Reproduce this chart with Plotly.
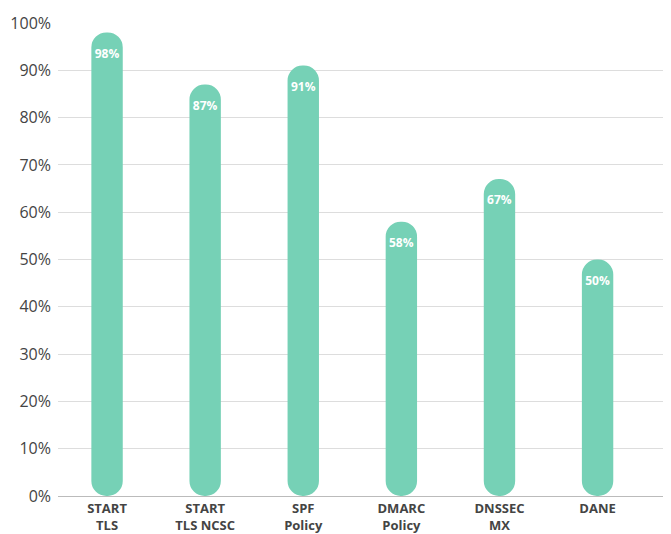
import plotly.graph_objects as go

categories = ["START<br>TLS", "START<br>TLS NCSC", "SPF<br>Policy", "DMARC<br>Policy", "DNSSEC<br>MX", "DANE"]
values = [98, 87, 91, 58, 67, 50]
labels = ["98%", "87%", "91%", "58%", "67%", "50%"]

fig = go.Figure(go.Bar(
    x=categories, y=values, text=labels, textposition="inside",
    insidetextanchor="end",
    textfont=dict(color="white", size=12, family="Open Sans", weight="bold"),
    marker=dict(color="#76d1b6", cornerradius=16, line=dict(width=0)),
    width=0.32, base=0,
))
fig.update_layout(
    width=671, height=534, plot_bgcolor="white", paper_bgcolor="white",
    margin=dict(l=50, r=0, t=15, b=46),
    font=dict(family="Open Sans", color="#555"),
    showlegend=False,
    yaxis=dict(range=[0, 100], dtick=10, ticksuffix="%", gridcolor="#dddddd",
               tickfont=dict(size=16, color="#444"), zeroline=False,
               showline=False, ticklabelstandoff=6),
    xaxis=dict(range=[-0.5, 5.83], tickfont=dict(size=13, color="#444", weight="bold"),
               showline=True, linecolor="#bbbbbb", linewidth=1),
    uniformtext=dict(minsize=12, mode="show"),
)
fig.write_html("out.html")
